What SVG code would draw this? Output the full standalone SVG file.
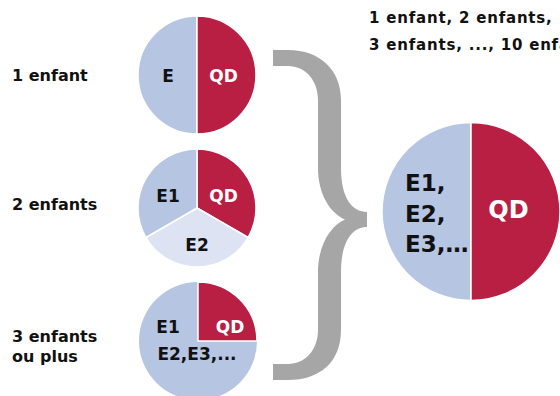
<svg xmlns="http://www.w3.org/2000/svg" width="560" height="396" viewBox="0 0 560 396">
<style>
text{font-family:"DejaVu Sans","Liberation Sans",sans-serif;font-weight:bold;fill:#111}
.lbl{font-size:16px}
.hdr{font-size:15px;letter-spacing:0.8px}
.pt{font-size:17px;text-anchor:middle}
.w{fill:#fff}
.blue{fill:#b6c5e2}
.red{fill:#b81f42}
.lav{fill:#dee3f3}
.sl{stroke:#fff;stroke-width:1.5}
</style>
<rect width="560" height="396" fill="#fff"/>
<g id="connectors">
<path d="M273,50 L288,50 C320,50 341,70 341,100 L341,168 C341,198 352,212 367,212 L367,227 C352,227 341,242 341,272 L341,330 C341,362 320,380 288,380 L273,380 L273,364 L288,364 C305,364 318,350 318,330 L318,272 C318,246 330,226 345,219.5 C330,213 318,194 318,168 L318,100 C318,80 305,66 288,66 L273,66 Z" fill="#a6a6a6"/>
</g>
<g id="header">
<text class="hdr" x="369" y="23">1 enfant, 2 enfants,</text>
<text class="hdr" x="369" y="50">3 enfants, ..., 10 enfants</text>
</g>
<g id="label1"><text class="lbl" x="12" y="81">1 enfant</text></g>
<g id="label2"><text class="lbl" x="12" y="210">2 enfants</text></g>
<g id="label3"><text class="lbl" x="12" y="342">3 enfants</text><text class="lbl" x="12" y="362">ou plus</text></g>
<g id="pie1">
<path class="blue sl" d="M197,16 A59,59 0 0 0 197,134 Z"/>
<path class="red sl" d="M197,16 A59,59 0 0 1 197,134 Z"/>
<text class="pt" x="168" y="82">E</text>
<text class="pt w" x="223.5" y="82">QD</text>
</g>
<g id="pie2">
<path class="red sl" d="M197,208 L197,149 A59,59 0 0 1 248.1,237.5 Z"/>
<path class="lav sl" d="M197,208 L248.1,237.5 A59,59 0 0 1 145.9,237.5 Z"/>
<path class="blue sl" d="M197,208 L145.9,237.5 A59,59 0 0 1 197,149 Z"/>
<text class="pt" x="168" y="202">E1</text>
<text class="pt w" x="223.5" y="202">QD</text>
<text class="pt" x="197" y="251">E2</text>
</g>
<g id="pie3">
<circle class="blue" cx="198" cy="341" r="59"/>
<path class="red sl" d="M198,341 L198,282 A59,59 0 0 1 257,341 Z"/>
<text class="pt" x="168" y="333">E1</text>
<text class="pt w" x="230" y="333">QD</text>
<text class="pt" x="197" y="360" font-size="16">E2,E3,...</text>
</g>
<g id="pieTotal">
<path class="blue sl" d="M471,122.5 A89,89 0 0 0 471,300.5 Z"/>
<path class="red sl" d="M471,122.5 A89,89 0 0 1 471,300.5 Z"/>
<text x="405" y="191" font-size="23">E1,</text>
<text x="405" y="222" font-size="23">E2,</text>
<text x="405" y="252" font-size="23">E3,…</text>
<text class="w" x="508.5" y="218" font-size="24" text-anchor="middle">QD</text>
</g>
</svg>
